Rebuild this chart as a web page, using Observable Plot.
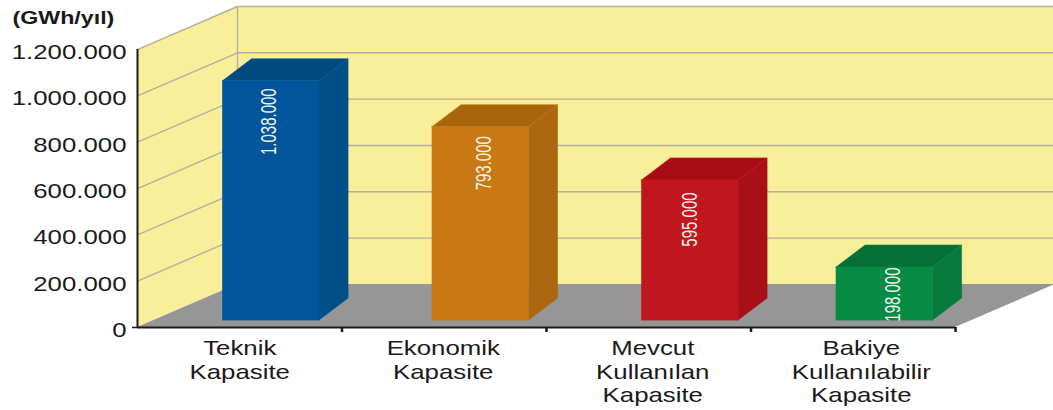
<!DOCTYPE html>
<html>
<head>
<meta charset="utf-8">
<script src="https://cdn.jsdelivr.net/npm/d3@7"></script>
<script src="https://cdn.jsdelivr.net/npm/@observablehq/plot@0.6"></script>
<style>html,body{margin:0;padding:0;background:#fff}svg{display:block}</style>
</head>
<body>
<div id="chart"></div>
<script>
// Data
const categories = ["Teknik\nKapasite", "Ekonomik\nKapasite", "Mevcut\nKullanılan\nKapasite", "Bakiye\nKullanılabilir\nKapasite"];
const labelledValues = [1038000, 793000, 595000, 198000];
// Bar heights as drawn against the axis (the picture does not draw them exactly to their labels)
const drawnHeights = [1033000, 835000, 605000, 229000];
const yTicks = [0, 200000, 400000, 600000, 800000, 1000000, 1200000];
const unitLabel = "(GWh/yıl)";
const frontColors = ["#02559b", "#c97913", "#c2161e", "#078a42"];
const sideColors = ["#004f88", "#ab6810", "#a80f16", "#077a3b"];
const topColors = ["#004a80", "#a8650c", "#a60c12", "#066f35"];

// Pseudo-3D layout, in scale units
const xMax = 4.479, wallDX = 0.489, wallDY = 186000;
const barStart = 0.418, barWidth = 0.472, barDX = 0.142, barDY = 95000, barBase = 30000;
// Small per-bar pixel nudges
const barNudge = [0, 5, 10, 0];
const valueNudgeX = [-2, 3, 0, 8];
const valueNudgeY = [7, 9, 12, 0];
const catNudgeX = [0, -1, 4, 8];

const fmt = d3.formatLocale({decimal: ",", thousands: ".", grouping: [3], currency: ["", ""]}).format(",");
const yellow = "#f9ef9b", gray = "#969696", grid = "#b3b09e", ink = "#1a1a1a";
const yTop = yTicks[yTicks.length - 1];

const gridPts = yTicks.slice(1).flatMap(v => [
  {x: 0, y: v, z: v}, {x: wallDX, y: v + wallDY, z: v}, {x: xMax, y: v + wallDY, z: v}
]);

const barMarks = categories.flatMap((c, i) => {
  const x0 = i + barStart, x1 = x0 + barWidth, h = barBase + drawnHeights[i], dx = barNudge[i];
  const edge = {strokeWidth: 0.6, dx};
  return [
    Plot.areaY([{x: x1, y1: barBase, y2: h}, {x: x1 + barDX, y1: barBase + barDY, y2: h + barDY}],
      {x: "x", y1: "y1", y2: "y2", fill: sideColors[i], stroke: sideColors[i], ...edge}),
    Plot.areaX([{y: h, x1: x0, x2: x1}, {y: h + barDY, x1: x0 + barDX, x2: x1 + barDX}],
      {y: "y", x1: "x1", x2: "x2", fill: topColors[i], stroke: frontColors[i], ...edge}),
    Plot.rect([{x1: x0, x2: x1, y1: barBase, y2: h}],
      {x1: "x1", x2: "x2", y1: "y1", y2: "y2", fill: frontColors[i], stroke: frontColors[i], ...edge}),
    Plot.text([{x: x0 + barWidth / 2, y: h, t: fmt(labelledValues[i])}], {
      x: "x", y: "y", text: "t", rotate: -90, textAnchor: "end", lineAnchor: "middle",
      fontSize: 15, fill: "#eef2ea", dx: dx + valueNudgeX[i], dy: valueNudgeY[i]
    })
  ];
});

const chart = Plot.plot({
  width: 1053, height: 410,
  marginLeft: 137, marginRight: 0, marginTop: 6, marginBottom: 83,
  style: {fontFamily: "'Liberation Sans', Arial, sans-serif", background: "#fff"},
  x: {domain: [0, xMax], axis: null},
  y: {domain: [0, yTop + wallDY], axis: null},
  marks: [
    // back wall and left wall
    Plot.rect([{x1: wallDX, x2: xMax, y1: wallDY, y2: yTop + wallDY}], {x1: "x1", x2: "x2", y1: "y1", y2: "y2", fill: yellow}),
    Plot.areaY([{x: 0, y1: 0, y2: yTop}, {x: wallDX, y1: wallDY, y2: yTop + wallDY}], {x: "x", y1: "y1", y2: "y2", fill: yellow}),
    Plot.line(gridPts, {x: "x", y: "y", z: "z", stroke: grid, strokeWidth: 1.4}),
    Plot.ruleX([wallDX], {y1: wallDY, y2: yTop + wallDY, stroke: grid, strokeWidth: 1.4}),
    // floor
    Plot.areaX([{y: 0, x1: 0, x2: 4}, {y: wallDY, x1: wallDX, x2: 4 + wallDX}], {y: "y", x1: "x1", x2: "x2", fill: gray}),
    ...barMarks,
    // axes
    Plot.ruleX([0], {y1: 0, y2: yTop, stroke: ink, strokeWidth: 2}),
    Plot.ruleY([0], {x1: 0, x2: 4, stroke: ink, strokeWidth: 2}),
    Plot.axisY({ticks: [0], tickFormat: () => "", tickSize: 5, stroke: ink, strokeWidth: 1.5}),
    Plot.axisX({ticks: [1, 2, 3, 4], tickFormat: () => "", tickSize: 5, stroke: ink, strokeWidth: 2.5}),
    Plot.axisY({ticks: yTicks, tickFormat: d => fmt(d), tickSize: 0, tickPadding: 11, fontSize: 20, fill: ink, dy: 3, marginLeft: 137}),
    ...categories.map((c, i) => Plot.text([c], {
      x: () => i + 0.5, y: () => 0, text: d => d, lineAnchor: "top", lineHeight: 1.175,
      fontSize: 20, fill: ink, dy: 11, dx: catNudgeX[i]
    })),
    Plot.text([unitLabel], {frameAnchor: "top-left", text: d => d, dx: -125, dy: 5, fontSize: 18, fontWeight: "bold", fill: ink, textAnchor: "start"})
  ]
});

// The reference image is stretched horizontally: stretch the real text the same way.
const stretch = 1.29, stretchRotated = 1.45;
chart.querySelectorAll("text").forEach(t => {
  const tr = t.getAttribute("transform") || "";
  t.setAttribute("transform", tr.includes("rotate(")
    ? tr.replace("rotate(", `scale(${stretchRotated},1) rotate(`)
    : `${tr} scale(${stretch},1)`.trim());
});
document.getElementById("chart").append(chart);
</script>
</body>
</html>
